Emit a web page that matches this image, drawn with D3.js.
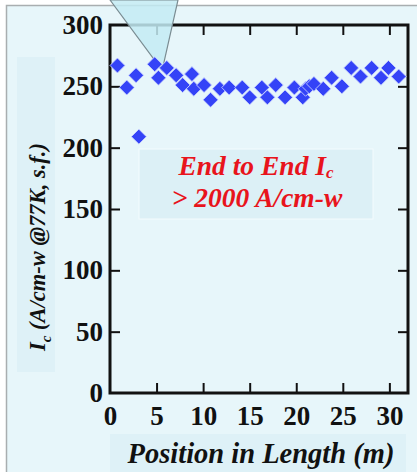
<!DOCTYPE html>
<html lang="en">
<head>
    <meta charset="UTF-8">
    <title>Ic vs Position</title>
    <script src="https://d3js.org/d3.v7.min.js"></script>
    <style>
        body { margin: 0; background: #fff; }
    </style>
</head>
<body>
    <div id="chart"></div>
    <script>
        // Data
        const positions = [0.8, 1.8, 2.8, 3.1, 4.8, 5.2, 6.1, 7.1, 7.8, 8.8, 9.0, 10.1, 10.8, 11.8, 12.8,
            14.2, 15.0, 16.3, 16.9, 17.8, 18.8, 19.8, 20.7, 21.0, 21.4, 21.9, 22.9, 23.8, 24.9, 25.9,
            26.9, 28.1, 29.1, 29.9, 31.0];
        const icValues = [267, 249, 259, 209, 268, 257, 265, 259, 251, 260, 248, 251, 239, 248, 249,
            249, 241, 249, 241, 251, 241, 249, 241, 248, 250, 252, 248, 257, 250, 265,
            258, 265, 257, 265, 258];
        const xTicks = [0, 5, 10, 15, 20, 25, 30];
        const yTicks = [0, 50, 100, 150, 200, 250, 300];

        const W = 417, H = 472;
        const plot = { left: 110, right: 408, top: 25, bottom: 393 };
        const serif = "'Liberation Serif', 'Times New Roman', serif";

        const svg = d3.select("#chart").append("svg")
            .attr("width", W).attr("height", H)
            .attr("font-family", serif);

        // Panel background
        svg.append("rect")
            .attr("x", 6.5).attr("y", 5.5)
            .attr("width", W).attr("height", H)
            .attr("fill", "#e7f6fa")
            .attr("stroke", "#a9aeb0").attr("stroke-width", 1.5);

        // Label boxes
        svg.append("rect").attr("x", 17).attr("y", 57).attr("width", 38).attr("height", 315)
            .attr("fill", "#def1f7");
        svg.append("rect").attr("x", 110).attr("y", 434).attr("width", 296).attr("height", 40)
            .attr("fill", "#def1f7");

        const x = d3.scaleLinear().domain([0, 32]).range([plot.left, plot.right]);
        const y = d3.scaleLinear().domain([0, 300]).range([plot.bottom, plot.top]);

        // Annotation box
        const note = svg.append("g")
            .attr("font-family", serif).attr("font-weight", "bold").attr("font-style", "italic")
            .attr("fill", "#e8141c").attr("text-anchor", "middle");
        note.append("rect")
            .attr("x", 139).attr("y", 149).attr("width", 234).attr("height", 70)
            .attr("fill", "#dcf0f6").attr("stroke", "#f4fbfd").attr("stroke-width", 1);
        const t1 = note.append("text")
            .attr("x", 256).attr("y", 175)
            .attr("font-size", 27.5);
        t1.append("tspan").text("End to End I");
        t1.append("tspan").attr("dy", 3).attr("font-size", 17).text("c");
        note.append("text")
            .attr("x", 257).attr("y", 207)
            .attr("font-size", 27.5)
            .text("> 2000 A/cm-w");

        // Axes (ticks pointing inward)
        const tick = 10;
        svg.append("g")
            .attr("transform", `translate(0,${plot.bottom})`)
            .call(d3.axisBottom(x).tickValues(xTicks).tickSize(-tick).tickPadding(13))
            .call(g => g.selectAll(".tick line").filter(d => d === 0).remove());
        svg.append("g")
            .attr("transform", `translate(0,${plot.top})`)
            .call(d3.axisTop(x).tickValues(xTicks).tickSize(-tick).tickFormat(""))
            .call(g => g.selectAll(".tick line").filter(d => d === 0).remove());
        svg.append("g")
            .attr("transform", `translate(${plot.left},0)`)
            .call(d3.axisLeft(y).tickValues(yTicks).tickSize(-tick).tickPadding(7))
            .call(g => g.selectAll(".tick line").filter(d => d === 0 || d === 300).remove());
        svg.append("g")
            .attr("transform", `translate(${plot.right},0)`)
            .call(d3.axisRight(y).tickValues(yTicks).tickSize(-tick).tickFormat(""))
            .call(g => g.selectAll(".tick line").filter(d => d === 0 || d === 300).remove());

        svg.selectAll(".domain").remove();
        svg.selectAll(".tick line").attr("stroke", "#111").attr("stroke-width", 2);
        svg.selectAll(".tick").attr("font-family", serif);
        svg.selectAll(".tick text")
            .attr("font-family", serif).attr("font-weight", "bold")
            .attr("font-size", 27).attr("fill", "#111");

        // Frame
        svg.append("rect")
            .attr("x", plot.left).attr("y", plot.top)
            .attr("width", plot.right - plot.left).attr("height", plot.bottom - plot.top)
            .attr("fill", "none").attr("stroke", "#111").attr("stroke-width", 3);

        // Callout wedge coming from above
        svg.append("path")
            .attr("d", `M110,0 L${x(5.6)},${y(263)} L178,0 Z`)
            .attr("fill", "#c3ebf3").attr("fill-opacity", 0.85)
            .attr("stroke", "#7a8c92").attr("stroke-width", 1.2);

        // Data points as diamonds
        const diamond = d3.symbol(d3.symbolSquare).size(112);
        svg.append("g").selectAll("path")
            .data(positions.map((p, i) => ({ p: p, v: icValues[i] })))
            .join("path")
            .attr("d", diamond)
            .attr("transform", d => `translate(${x(d.p)},${y(d.v)}) rotate(45)`)
            .attr("fill", "#3443f7")
            .attr("stroke", "#c9d2ff").attr("stroke-width", 0.8);

        // Axis titles
        const yl = svg.append("text")
            .attr("transform", "translate(45,351) rotate(-90)")
            .attr("text-anchor", "start")
            .attr("font-family", serif).attr("font-weight", "bold").attr("font-style", "italic")
            .attr("font-size", 22.5).attr("fill", "#111");
        yl.append("tspan").text("I");
        yl.append("tspan").attr("dy", 6).attr("font-size", 15).text("c");
        yl.append("tspan").attr("dy", -6).text(" (A/cm-w @77K, s.f.)");

        svg.append("text")
            .attr("x", 261).attr("y", 463)
            .attr("text-anchor", "middle")
            .attr("font-family", serif).attr("font-weight", "bold").attr("font-style", "italic")
            .attr("font-size", 28.5).attr("fill", "#111")
            .text("Position in Length (m)");
    </script>
</body>
</html>
